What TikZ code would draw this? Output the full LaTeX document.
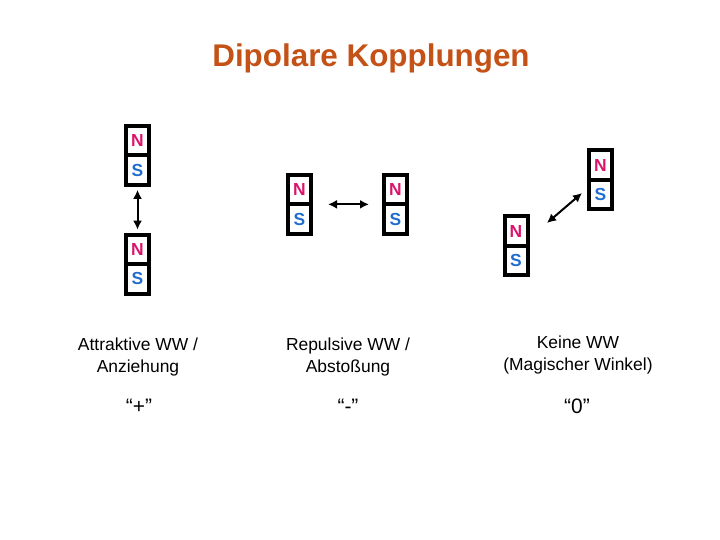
\documentclass[tikz,border=0pt]{standalone}
\usepackage{fontspec}
\setmainfont{Liberation Sans}
\usetikzlibrary{arrows.meta,positioning}
\definecolor{titlecol}{RGB}{196,82,22}
\definecolor{northcol}{RGB}{218,20,108}
\definecolor{southcol}{RGB}{32,108,208}
\tikzset{
  pole/.style={draw=black, line width=4bp, minimum width=23bp, minimum height=29.5bp,
    inner sep=0pt, outer sep=0pt, font=\fontsize{17.5}{17.5}\selectfont\bfseries},
  npole/.style={pole, text=northcol},
  spole/.style={pole, text=southcol, below=0pt of #1},
  pair/.style={line width=2bp, {Latex[length=9bp,width=9bp]}-{Latex[length=9bp,width=9bp]}},
  caption/.style={align=center, font=\fontsize{17.5}{22.5}\selectfont},
  sign/.style={font=\fontsize{21}{21}\selectfont}
}

\begin{document}
\begin{tikzpicture}[x=1bp, y=-1bp]
\useasboundingbox (0,0) rectangle (720,540);
\node [font=\fontsize{31.5}{31.5}\selectfont\bfseries, text=titlecol] (title) at (371,58) {Dipolare Kopplungen};
\node [npole] (n1) at (137.5,140.6) {N};
\node [spole=n1] (s1) {S};
\node [npole] (n2) at (137.5,249.4) {N};
\node [spole=n2] (s2) {S};
\node [npole] (n3) at (299.5,189.6) {N};
\node [spole=n3] (s3) {S};
\node [npole] (n4) at (395.5,189.6) {N};
\node [spole=n4] (s4) {S};
\node [npole] (n5) at (600.5,165.1) {N};
\node [spole=n5] (s5) {S};
\node [npole] (n6) at (516,231.1) {N};
\node [spole=n6] (s6) {S};
\coordinate (d6) at (547,223);
\coordinate (d5) at (582,193);
\draw [pair, shorten <=5bp, shorten >=5bp] (s1) -- (n2);
\draw [pair, shorten <=17bp, shorten >=15bp] (n3.south east) -- (n4.south west);
\draw [pair] (d6) -- (d5);
\node [caption] (attr) at (138,357) {Attraktive WW /\\Anziehung};
\node [caption] (rep) at (348,357) {Repulsive WW /\\Abstoßung};
\node [caption] (none) at (578,355) {Keine WW\\(Magischer Winkel)};
\node [sign] (plus) at (139,406) {“+”};
\node [sign] (minus) at (348,406) {“-”};
\node [sign] (zero) at (577,406) {“0”};
\end{tikzpicture}
\end{document}
